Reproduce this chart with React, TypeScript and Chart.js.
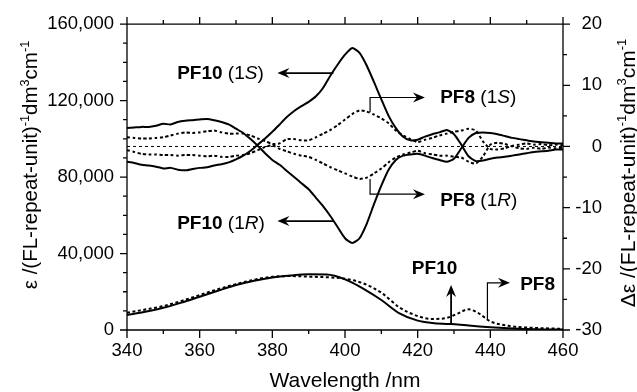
import React, { useEffect, useRef } from "react";
import { Chart, registerables } from "chart.js";

Chart.register(...registerables);

const FAMILY = '"Liberation Sans", Arial, Helvetica, sans-serif';

// ---- CD spectra (right axis, Δε) ----
const cdWavelengths = [
  340, 342, 344, 346, 348, 350, 352, 354, 356, 358,
  360, 362, 364, 366, 368, 370, 372, 374, 376, 378,
  380, 382, 384, 386, 388, 390, 392, 394, 396, 398,
  400, 402, 404, 406, 408, 410, 412, 414, 416, 418,
  420, 422, 424, 426, 428, 430, 432, 434, 436, 438,
  440, 442, 444, 446, 448, 450, 452, 454, 456, 458, 460,
];
const pf10S = [
  -2.5, -2.7, -3.0, -3.1, -3.3, -3.6, -3.5, -3.8, -3.9, -3.7,
  -3.5, -3.4, -3.1, -2.9, -2.6, -2.1, -1.5, -0.7, 0.3, 1.3,
  2.4, 3.6, 4.8, 5.8, 6.6, 7.3, 8.2, 9.6, 11.6, 13.4,
  15.0, 16.1, 15.3, 13.2, 10.5, 7.7, 5.0, 3.0, 1.6, 1.0,
  1.1, 1.6, 2.0, 2.3, 2.7, 2.0, 0.3, -1.6, -2.4, -2.3,
  -2.0, -1.8, -1.7, -1.5, -1.3, -1.1, -0.9, -0.8, -0.7, -0.5, -0.5,
];
const pf10R = [
  3.0, 3.1, 3.2, 3.2, 3.4, 3.7, 3.6, 4.0, 4.2, 4.3,
  4.4, 4.5, 4.3, 4.0, 3.6, 2.9, 2.2, 1.2, 0.1, -1.1,
  -2.2, -3.0, -4.0, -5.0, -6.0, -7.0, -8.4, -9.8, -11.4, -13.2,
  -15.0, -15.8, -15.0, -12.6, -9.4, -6.4, -3.8, -2.2, -1.5, -1.3,
  -1.2, -1.5, -1.9, -2.2, -2.5, -2.0, -0.3, 1.4, 2.2, 2.3,
  2.2, 2.0, 1.7, 1.4, 1.2, 1.0, 0.8, 0.7, 0.6, 0.5, 0.5,
];
const pf8S = [
  1.5, 1.4, 1.3, 1.3, 1.4, 1.5, 1.8, 2.1, 2.3, 2.2,
  2.3, 2.5, 2.6, 2.3, 2.1, 2.1, 2.1, 1.8, 1.3, 0.9,
  0.4, 0.5, 1.2, 1.2, 1.0, 1.0, 1.5, 2.1, 2.7, 3.5,
  4.4, 5.3, 5.9, 5.7, 5.2, 4.6, 3.8, 2.6, 1.8, 1.2,
  0.7, 1.1, 1.4, 1.8, 2.1, 2.4, 2.6, 2.9, 2.6, 0.8,
  -0.4, -0.5, -0.3, 0.1, 0.3, 0.5, 0.3, 0.4, 0.2, 0.3, 0.2,
];
const pf8R = [
  -0.6, -0.9, -1.2, -1.3, -1.3, -1.4, -1.4, -1.5, -1.4, -1.4,
  -1.5, -1.6, -1.5, -1.7, -1.7, -1.5, -1.4, -1.1, -0.6, -0.1,
  0.2, -0.4, -0.8, -1.2, -1.5, -1.7, -2.2, -2.8, -3.4, -3.9,
  -4.4, -4.9, -5.3, -5.1, -4.4, -3.6, -2.6, -1.8, -1.3, -1.0,
  -0.7, -1.1, -1.3, -1.5, -1.5, -1.7, -1.8, -2.5, -2.8, -1.6,
  0.3, 0.6, 0.4, 0.0, -0.3, -0.4, -0.2, -0.4, -0.2, -0.3, -0.2,
];
const zeroLineX = [340, 460];
const zeroLineY = [0, 0];

// ---- Absorption spectra (left axis, ε) ----
const absWavelengths = [
  340, 345, 350, 355, 360, 365, 370, 375, 380, 385, 390, 395, 400, 405,
  410, 415, 420, 424, 428, 431, 434, 437, 440, 445, 450, 455, 460,
];
const pf10Abs = [
  7800, 9500, 11600, 14300, 17400, 20500, 23500, 25800, 27500, 28500, 29100, 29000, 26500, 21700,
  15700, 8700, 4900, 3700, 3200, 2900, 2300, 1800, 1400, 900, 500, 300, 200,
];
const pf8Abs = [
  9000, 10700, 12500, 15200, 18300, 21300, 24000, 26300, 27800, 28200, 27900, 27600, 26800, 24400,
  19500, 11800, 7300, 5800, 6300, 8600, 10800, 8500, 4500, 2200, 1300, 900, 600,
];

// ---- Axes ----
const xMajorTicks = [340, 360, 380, 400, 420, 440, 460];
const xMinorTicks = [350, 370, 390, 410, 430, 450];
const leftMajorTicks = [0, 40000, 80000, 120000, 160000];
const leftMinorTicks = [10000, 20000, 30000, 50000, 60000, 70000, 90000, 100000, 110000, 130000, 140000, 150000];
const rightMajorTicks = [-30, -20, -10, 0, 10, 20];
const rightMinorTicks = [-25, -15, -5, 5, 15];

type Part = [string, "b" | "n" | "i"];
type Ann = { parts: Part[]; tx: number; ty: number; axis: "y" | "y2"; path: number[][]; lw: number };

const annotations: Ann[] = [
  { parts: [["PF10", "b"], [" (1", "n"], ["S", "i"], [")", "n"]], tx: 353.8, ty: 12.1, axis: "y2", path: [[396.8, 12.0], [381.4, 12.0]], lw: 1.8 },
  { parts: [["PF10", "b"], [" (1", "n"], ["R", "i"], [")", "n"]], tx: 353.8, ty: -12.3, axis: "y2", path: [[396.8, -12.2], [381.4, -12.2]], lw: 1.8 },
  { parts: [["PF8", "b"], [" (1", "n"], ["S", "i"], [")", "n"]], tx: 426.2, ty: 8.2, axis: "y2", path: [[406.9, 5.6], [406.9, 8.0], [422.0, 8.0]], lw: 1.2 },
  { parts: [["PF8", "b"], [" (1", "n"], ["R", "i"], [")", "n"]], tx: 426.2, ty: -8.6, axis: "y2", path: [[406.9, -5.3], [406.9, -7.8], [422.0, -7.8]], lw: 1.2 },
  { parts: [["PF10", "b"]], tx: 418.4, ty: 33000, axis: "y", path: [[429.2, 2600], [429.2, 23500]], lw: 1.8 },
  { parts: [["PF8", "b"]], tx: 448.2, ty: 24400, axis: "y", path: [[439.2, 5200], [439.2, 24700], [445.4, 24700]], lw: 1.2 },
];

const pts = (xs: number[], ys: number[]) => xs.map((x, i) => ({ x, y: ys[i] }));

function fontFor(style: string, size: number) {
  if (style === "b") return `bold ${size}px ${FAMILY}`;
  if (style === "i") return `italic ${size}px ${FAMILY}`;
  return `${size}px ${FAMILY}`;
}

function drawArrow(ctx: CanvasRenderingContext2D, p: number[][], lw: number) {
  ctx.save();
  ctx.lineWidth = lw;
  ctx.strokeStyle = "#000";
  ctx.fillStyle = "#000";
  const n = p.length;
  const [tx, ty] = p[n - 1];
  const [px, py] = p[n - 2];
  const ang = Math.atan2(ty - py, tx - px);
  const L = 12, W = 5, notch = 8;
  ctx.beginPath();
  ctx.moveTo(p[0][0], p[0][1]);
  for (let i = 1; i < n - 1; i++) ctx.lineTo(p[i][0], p[i][1]);
  ctx.lineTo(tx - Math.cos(ang) * notch, ty - Math.sin(ang) * notch);
  ctx.stroke();
  ctx.translate(tx, ty);
  ctx.rotate(ang);
  ctx.beginPath();
  ctx.moveTo(0, 0);
  ctx.lineTo(-L, -W);
  ctx.lineTo(-notch, 0);
  ctx.lineTo(-L, W);
  ctx.closePath();
  ctx.fill();
  ctx.restore();
}

function drawRotTitle(ctx: CanvasRenderingContext2D, cx: number, cy: number, parts: [string, boolean][], fs: number) {
  ctx.save();
  ctx.translate(cx, cy);
  ctx.rotate(-Math.PI / 2);
  ctx.fillStyle = "#000";
  ctx.textBaseline = "alphabetic";
  ctx.textAlign = "left";
  const main = `${fs}px ${FAMILY}`;
  const sup = `${fs * 0.62}px ${FAMILY}`;
  let total = 0;
  for (const [t, s] of parts) {
    ctx.font = s ? sup : main;
    total += ctx.measureText(t).width;
  }
  let x = -total / 2;
  const base = fs * 0.36;
  for (const [t, s] of parts) {
    ctx.font = s ? sup : main;
    ctx.fillText(t, x, s ? base - fs * 0.42 : base);
    x += ctx.measureText(t).width;
  }
  ctx.restore();
}

const overlay = {
  id: "overlay",
  afterDraw(chart: any) {
    const ctx: CanvasRenderingContext2D = chart.ctx;
    const { left, right, top, bottom } = chart.chartArea;
    const xs = chart.scales.x, yl = chart.scales.y, yr = chart.scales.y2;
    ctx.save();
    ctx.strokeStyle = "#000";
    ctx.lineWidth = 1.3;
    ctx.beginPath();
    ctx.moveTo(left, top);
    ctx.lineTo(right, top);
    ctx.moveTo(left, bottom);
    ctx.lineTo(right, bottom);
    ctx.moveTo(left, top);
    ctx.lineTo(left, bottom);
    ctx.moveTo(right, top);
    ctx.lineTo(right, bottom);
    for (const v of xMajorTicks) {
      const px = xs.getPixelForValue(v);
      ctx.moveTo(px, bottom); ctx.lineTo(px, bottom + 8);
      ctx.moveTo(px, top); ctx.lineTo(px, top - 7);
    }
    for (const v of xMinorTicks) {
      const px = xs.getPixelForValue(v);
      ctx.moveTo(px, bottom); ctx.lineTo(px, bottom + 4);
      ctx.moveTo(px, top); ctx.lineTo(px, top - 4);
    }
    for (const v of leftMajorTicks) {
      const py = yl.getPixelForValue(v);
      ctx.moveTo(left, py); ctx.lineTo(left - 7, py);
    }
    for (const v of leftMinorTicks) {
      const py = yl.getPixelForValue(v);
      ctx.moveTo(left, py); ctx.lineTo(left - 4, py);
    }
    for (const v of rightMajorTicks) {
      const py = yr.getPixelForValue(v);
      ctx.moveTo(right, py); ctx.lineTo(right + 7, py);
    }
    for (const v of rightMinorTicks) {
      const py = yr.getPixelForValue(v);
      ctx.moveTo(right, py); ctx.lineTo(right + 4, py);
    }
    ctx.stroke();
    ctx.restore();

    // right-axis tick labels (right-aligned, as in the reference)
    ctx.save();
    ctx.fillStyle = "#000";
    ctx.font = `18.5px ${FAMILY}`;
    ctx.textAlign = "right";
    ctx.textBaseline = "middle";
    for (const v of rightMajorTicks) {
      ctx.fillText(String(v), right + 39, yr.getPixelForValue(v));
    }
    ctx.restore();

    // axis titles
    ctx.save();
    ctx.fillStyle = "#000";
    ctx.font = `21px ${FAMILY}`;
    ctx.textAlign = "center";
    ctx.textBaseline = "alphabetic";
    ctx.fillText("Wavelength /nm", (left + right) / 2, 387);
    ctx.restore();
    drawRotTitle(ctx, 30, 165, [["ε /(FL-repeat-unit)", false], ["-1", true], ["dm", false], ["3", true], ["cm", false], ["-1", true]], 20.5);
    drawRotTitle(ctx, 627, 173, [["Δε /(FL-repeat-unit)", false], ["-1", true], ["dm", false], ["3", true], ["cm", false], ["-1", true]], 21);

    // annotations
    const fs = 19;
    for (const a of annotations) {
      const ys = a.axis === "y" ? yl : yr;
      const path = a.path.map(([x, y]) => [xs.getPixelForValue(x), ys.getPixelForValue(y)]);
      drawArrow(ctx, path, a.lw);
      ctx.save();
      ctx.fillStyle = "#000";
      ctx.textBaseline = "alphabetic";
      ctx.textAlign = "left";
      let x = xs.getPixelForValue(a.tx);
      const yb = ys.getPixelForValue(a.ty) + fs * 0.36;
      for (const [t, s] of a.parts) {
        ctx.font = fontFor(s, fs);
        ctx.fillText(t, x, yb);
        x += ctx.measureText(t).width;
      }
      ctx.restore();
    }
  },
};

export default function App() {
  const ref = useRef<HTMLCanvasElement>(null);
  useEffect(() => {
    document.body.style.margin = "0";
    const tickFont = { family: FAMILY, size: 18.5 };
    const chart = new Chart(ref.current as HTMLCanvasElement, {
      type: "line",
      data: {
        datasets: [
          { data: pts(zeroLineX, zeroLineY), yAxisID: "y2", borderColor: "#000", borderWidth: 1, borderDash: [3, 3], pointRadius: 0, tension: 0 },
          { data: pts(cdWavelengths, pf8S), yAxisID: "y2", borderColor: "#000", borderWidth: 2, borderDash: [3, 2.5], pointRadius: 0, tension: 0.2 },
          { data: pts(cdWavelengths, pf8R), yAxisID: "y2", borderColor: "#000", borderWidth: 2, borderDash: [3, 2.5], pointRadius: 0, tension: 0.2 },
          { data: pts(cdWavelengths, pf10S), yAxisID: "y2", borderColor: "#000", borderWidth: 2, pointRadius: 0, tension: 0.2 },
          { data: pts(cdWavelengths, pf10R), yAxisID: "y2", borderColor: "#000", borderWidth: 2, pointRadius: 0, tension: 0.2 },
          { data: pts(absWavelengths, pf8Abs), yAxisID: "y", borderColor: "#000", borderWidth: 2, borderDash: [3, 2.5], pointRadius: 0, cubicInterpolationMode: "monotone" },
          { data: pts(absWavelengths, pf10Abs), yAxisID: "y", borderColor: "#000", borderWidth: 2, pointRadius: 0, cubicInterpolationMode: "monotone" },
        ],
      },
      options: {
        responsive: false,
        animation: false,
        devicePixelRatio: 1,
        layout: { padding: { top: 24, left: 0, right: 0, bottom: 0 } },
        plugins: { legend: { display: false }, tooltip: { enabled: false } },
        scales: {
          x: {
            type: "linear", position: "bottom", min: 340, max: 460,
            grid: { display: false, drawTicks: false }, border: { display: false },
            ticks: { stepSize: 20, color: "#000", font: tickFont, padding: 10, maxRotation: 0, autoSkip: false },
            afterFit: (s: any) => { s.height = 62; },
          },
          y: {
            type: "linear", position: "left", min: 0, max: 160000,
            grid: { display: false, drawTicks: false }, border: { display: false },
            ticks: { stepSize: 40000, color: "#000", font: tickFont, padding: 13, callback: (v: any) => Number(v).toLocaleString("en-US") },
            afterFit: (s: any) => { s.width = 127; },
          },
          y2: {
            type: "linear", position: "right", min: -30, max: 20,
            grid: { display: false, drawTicks: false }, border: { display: false },
            ticks: { display: false, stepSize: 10 },
            afterFit: (s: any) => { s.width = 74; },
          },
        },
      },
      plugins: [overlay],
    } as any);
    return () => chart.destroy();
  }, []);
  return (
    <div style={{ position: "absolute", left: 0, top: 0, width: 637, height: 392 }}>
      <canvas ref={ref} width={637} height={392} style={{ display: "block", width: 637, height: 392 }} />
    </div>
  );
}
